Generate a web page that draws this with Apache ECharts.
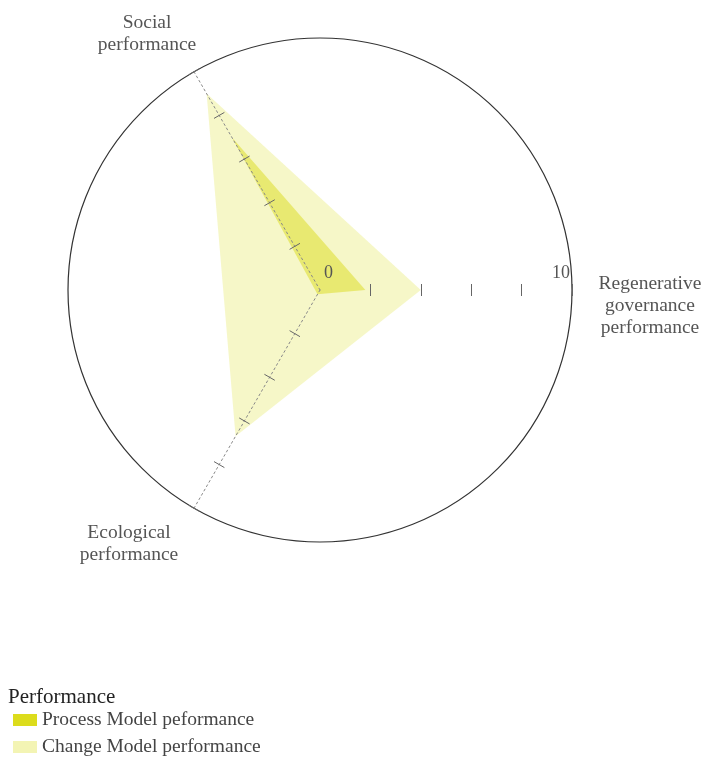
<!DOCTYPE html>
<html>
<head>
<meta charset="utf-8">
<script src="https://cdn.jsdelivr.net/npm/echarts@6/dist/echarts.min.js"></script>
<style>
html, body { margin: 0; padding: 0; background: #fff; }
#main { width: 704px; height: 757px; }
</style>
</head>
<body>
<div id="main"></div>
<script>
// chart values
var indicatorNames = ['Regenerative\ngovernance\nperformance', 'Social\nperformance', 'Ecological\nperformance'];
var indicatorMax = [10, 10, 10];
var seriesNames = ['Process Model peformance', 'Change Model performance'];
var processValues = [1.8, 7, 0.2];
var changeValues = [4, 9, 6.7];
var tickValues = [2, 4, 6, 8, 10];
var shownTickValues = [0, 10];

var FONT = 'Liberation Serif';
var CENTER = [320, 290];
var RADIUS = 252;

// where each axis name block is centred, as an offset from the radar centre
var NAME_OFFSET = [
    [330, 16],
    [-173, -256],
    [-191, 254]
];

function buildIndicators(main) {
    var list = [];
    for (var i = 0; i < indicatorNames.length; i++) {
        var item = {
            name: indicatorNames[i],
            min: 0,
            max: indicatorMax[i]
        };
        if (main) {
            // only the first axis carries labels, and it has no line
            if (i === 0) {
                item.axisLine = { show: false };
            } else {
                item.axisLabel = { show: false };
            }
        }
        list.push(item);
    }
    return list;
}

// only the outer ring is drawn
function ringColors() {
    var colors = [];
    for (var i = 0; i < tickValues.length - 1; i++) {
        colors.push('rgba(0,0,0,0)');
    }
    colors.push('#333');
    return colors;
}

// two radars on top of each other so the ticks cross the axis
function buildRadar(main, tickLen) {
    return {
        z: 3,
        center: CENTER,
        radius: RADIUS,
        startAngle: 0,
        shape: 'circle',
        splitNumber: 5,
        axisName: { show: false },
        splitLine: {
            show: main,
            lineStyle: { color: ringColors(), width: 1.2 }
        },
        splitArea: { show: false },
        axisLine: {
            show: main,
            lineStyle: { color: '#888', type: [2, 3], width: 1 }
        },
        axisTick: {
            show: true,
            length: tickLen,
            customValues: tickValues,
            lineStyle: { color: '#666', width: 1 }
        },
        axisLabel: {
            show: main,
            color: '#555',
            fontFamily: FONT,
            fontSize: 18,
            margin: 8,
            padding: [0, 2, 0, 4],
            alignMinLabel: 'left',
            alignMaxLabel: 'right',
            customValues: shownTickValues,
            formatter: function (v) {
                return shownTickValues.indexOf(v) >= 0 ? String(v) : '';
            }
        },
        indicator: buildIndicators(main)
    };
}

function buildNames() {
    var els = [];
    for (var i = 0; i < indicatorNames.length; i++) {
        els.push({
            type: 'text',
            x: CENTER[0] + NAME_OFFSET[i][0],
            y: CENTER[1] + NAME_OFFSET[i][1],
            style: {
                text: indicatorNames[i],
                align: 'center',
                verticalAlign: 'middle',
                fontFamily: FONT,
                fontSize: 19.5,
                lineHeight: 22,
                fill: '#555'
            }
        });
    }
    return els;
}

var myChart = echarts.init(document.getElementById('main'));

var option = {
    animation: false,
    title: {
        text: 'Performance',
        left: 3,
        top: 682,
        textStyle: { fontFamily: FONT, fontSize: 21, fontWeight: 'normal', color: '#222' }
    },
    legend: {
        orient: 'vertical',
        left: 13,
        top: 710,
        padding: 0,
        icon: 'rect',
        itemWidth: 24,
        itemHeight: 12,
        itemGap: 7,
        selectedMode: false,
        data: seriesNames,
        textStyle: { fontFamily: FONT, fontSize: 19.5, color: '#444' }
    },
    graphic: buildNames(),
    radar: [buildRadar(true, 6), buildRadar(false, -6)],
    series: [
        {
            type: 'radar',
            radarIndex: 0,
            symbol: 'none',
            lineStyle: { width: 0 },
            data: [
                {
                    name: seriesNames[1],
                    value: changeValues,
                    itemStyle: { color: '#f3f4b4' },
                    areaStyle: { color: '#f3f4b4', opacity: 0.73 }
                },
                {
                    name: seriesNames[0],
                    value: processValues,
                    itemStyle: { color: '#dcdc1c' },
                    areaStyle: { color: '#dcdc1c', opacity: 0.5 }
                }
            ]
        }
    ]
};

myChart.setOption(option);
</script>
</body>
</html>
